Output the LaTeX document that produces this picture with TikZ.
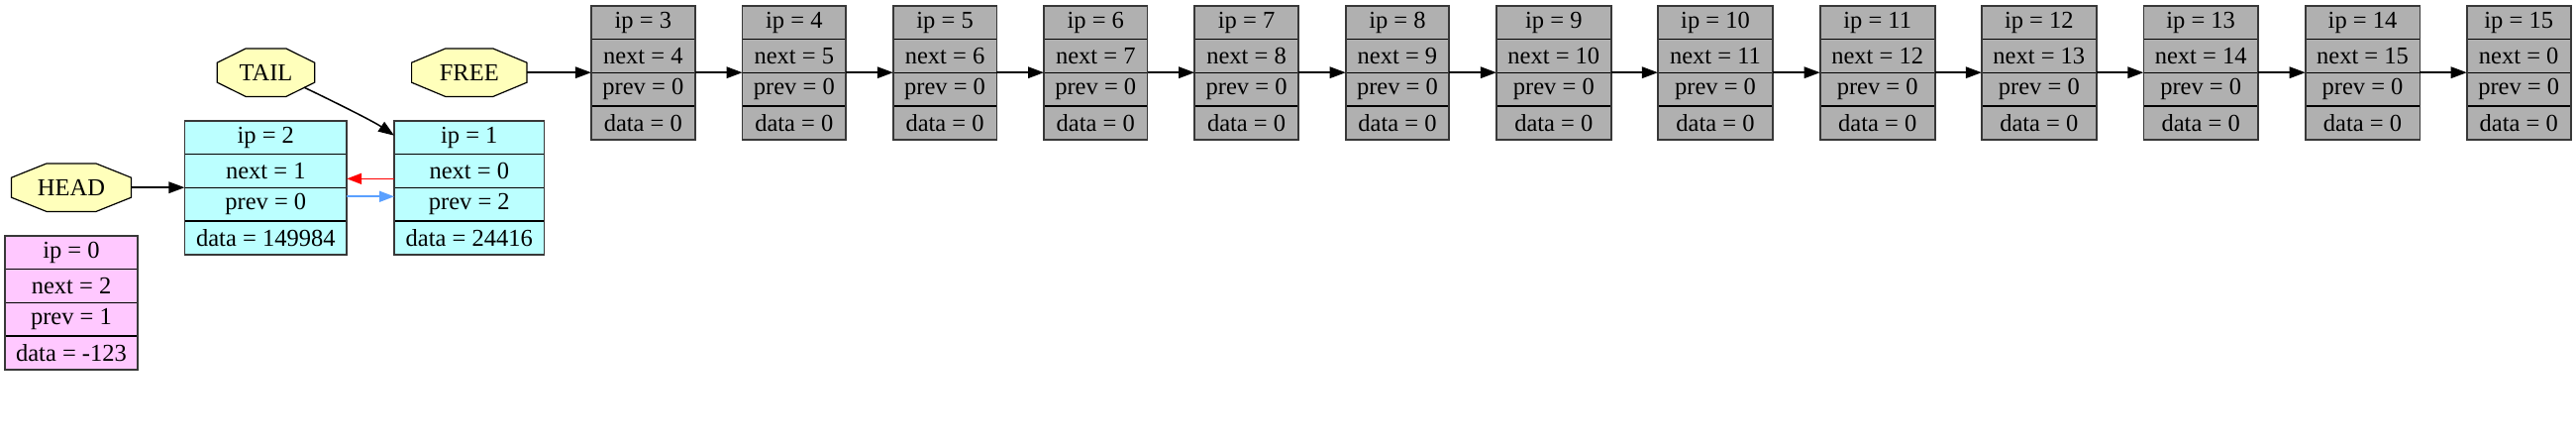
\documentclass[tikz,border=0pt]{standalone}
\usepackage{fontspec}
\setmainfont{Liberation Serif}
\usetikzlibrary{arrows.meta}
\definecolor{cgray}{HTML}{B0B0B0}
\definecolor{ccyan}{HTML}{BBFFFF}
\definecolor{cpink}{HTML}{FFC8FF}
\definecolor{cyel}{HTML}{FFFFBB}
\definecolor{cblue}{HTML}{5AA0FF}
\tikzset{
  rowbox/.style={rectangle, draw=black, line width=1.1pt, minimum height=33.75pt, inner sep=0pt, outer sep=0pt, anchor=north west, font=\fontsize{24.5}{29}\selectfont},
  outerb/.style={draw=black!78, line width=1.6pt},
  octst/.style={draw=black, fill=cyel, line width=1.2pt},
  octlabel/.style={rectangle, inner sep=0pt, outer sep=0pt, minimum height=48.4pt, font=\fontsize{24.5}{29}\selectfont},
  arr/.style={line width=1.5pt, -{Triangle[length=16pt,width=11.5pt]}},
  sarr/.style={line width=1.6pt, -{Triangle[length=15pt,width=11pt]}}
}
\newcommand\myrec[9]{%
  \node[rowbox, fill=#5, minimum width=#4pt] (#1a) at (#2,#3) {ip = #6};
  \node[rowbox, fill=#5, minimum width=#4pt] (#1b) at (#1a.south west) {next = #7};
  \node[rowbox, fill=#5, minimum width=#4pt] (#1c) at (#1b.south west) {prev = #8};
  \node[rowbox, fill=#5, minimum width=#4pt] (#1d) at (#1c.south west) {data = #9};
  \draw[outerb] (#1a.north west) rectangle (#1d.south east);
}
\newcommand\octnode[5]{%
  \draw[octst] ({#2-0.415*#4},{#3-24.2}) -- ({#2+0.415*#4},{#3-24.2}) -- ({#2+#4},{#3-10}) -- ({#2+#4},{#3+10}) -- ({#2+0.415*#4},{#3+24.2}) -- ({#2-0.415*#4},{#3+24.2}) -- ({#2-#4},{#3+10}) -- ({#2-#4},{#3-10}) -- cycle;
  \node[octlabel, minimum width=2*#4pt] (#1) at (#2,#3) {#5};
}
\begin{document}
\begin{tikzpicture}[x=1pt,y=-1pt]
\fill[white] (0,0) rectangle (2601,451);
\useasboundingbox (0,0) rectangle (2601,451);
% records
\myrec{r0}{5}{237.7}{134}{cpink}{0}{2}{1}{-123}
\myrec{r2}{186.4}{121.7}{163.8}{ccyan}{2}{1}{0}{149984}
\myrec{r1}{398}{121.7}{151.6}{ccyan}{1}{0}{2}{24416}
\myrec{r3}{596.9}{5.7}{104.9}{cgray}{3}{4}{0}{0}
\myrec{r4}{749.6}{5.7}{104.5}{cgray}{4}{5}{0}{0}
\myrec{r5}{901.8}{5.7}{104.5}{cgray}{5}{6}{0}{0}
\myrec{r6}{1054}{5.7}{104.5}{cgray}{6}{7}{0}{0}
\myrec{r7}{1206.1}{5.7}{105}{cgray}{7}{8}{0}{0}
\myrec{r8}{1358.7}{5.7}{104.5}{cgray}{8}{9}{0}{0}
\myrec{r9}{1510.9}{5.7}{115.8}{cgray}{9}{10}{0}{0}
\myrec{r10}{1673.9}{5.7}{116.2}{cgray}{10}{11}{0}{0}
\myrec{r11}{1837.7}{5.7}{116}{cgray}{11}{12}{0}{0}
\myrec{r12}{2000.8}{5.7}{116}{cgray}{12}{13}{0}{0}
\myrec{r13}{2164.3}{5.7}{115.7}{cgray}{13}{14}{0}{0}
\myrec{r14}{2327.7}{5.7}{115.6}{cgray}{14}{15}{0}{0}
\myrec{r15}{2490.7}{5.7}{105}{cgray}{15}{0}{0}{0}
% octagons
\octnode{head}{72}{189.2}{60.5}{HEAD}
\octnode{tail}{268.5}{73.2}{49.2}{TAIL}
\octnode{free}{473.8}{73.2}{58.2}{FREE}
% connectors
\draw[arr] (head.east) -- (r2b.south west);
\draw[arr] (free.east) -- (r3b.south west);
\coordinate (ts) at ([xshift=-10.6pt,yshift=-15pt]tail.east);
\draw[arr] (ts) .. controls +(20,9.5) and +(-22,-15) .. ([yshift=-15pt]r1a.north west);
\draw[sarr, red] ([yshift=-8pt]r1b.west) -- ([yshift=-8pt]r2b.east);
\draw[sarr, cblue] ([yshift=7.8pt]r2c.east) -- ([yshift=7.8pt]r1c.west);
\foreach \a/\b in {3/4,4/5,5/6,6/7,7/8,8/9,9/10,10/11,11/12,12/13,13/14,14/15}{
  \draw[arr] (r\a b.south east) -- (r\b b.south west);
}
\end{tikzpicture}
\end{document}
